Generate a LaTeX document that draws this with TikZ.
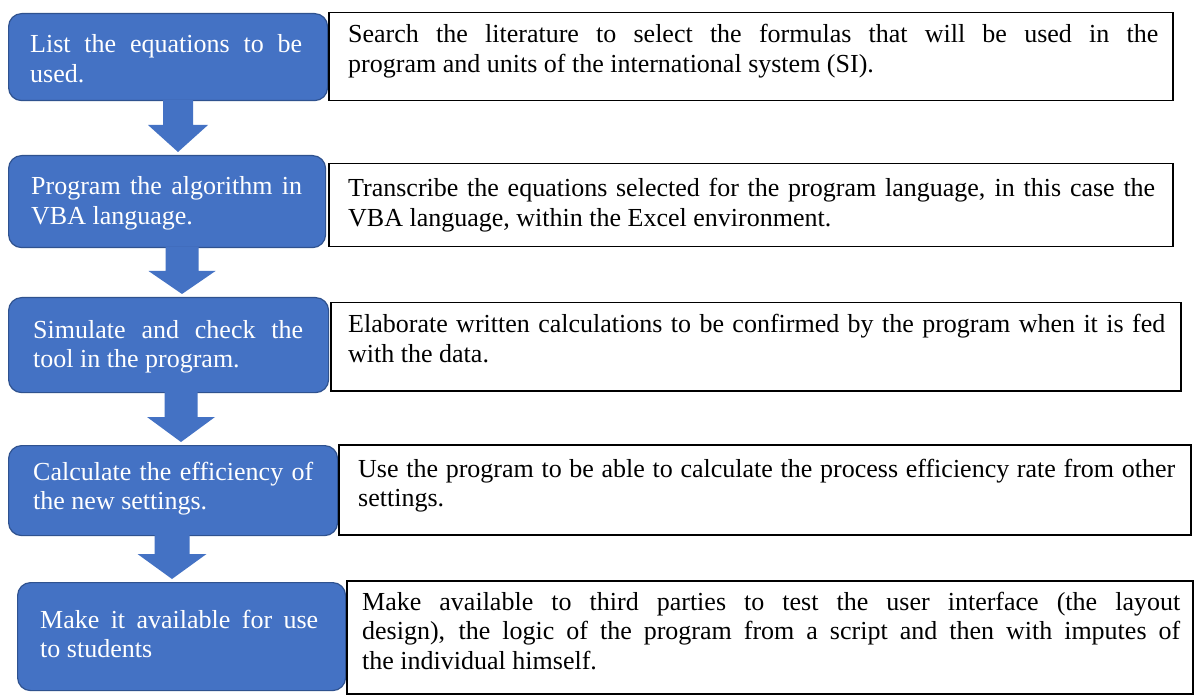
\documentclass[tikz,border=0pt]{standalone}
\usepackage{fontspec}
\setmainfont{Liberation Serif}
\usetikzlibrary{calc}
\definecolor{boxblue}{HTML}{4472C4}
\definecolor{boxedge}{HTML}{2F528F}
\tolerance=10000
\hyphenpenalty=10000
\hbadness=10000
\newcommand\barrow[6]{%
  \fill[arrowfill] let \p1=(#1.south), \p2=(#2.north) in
    (#3pt-#4pt,\y1+1pt) -- (#3pt+#4pt,\y1+1pt) -- (#3pt+#4pt,\y2+3pt+#6pt) --
    (#3pt+#5pt,\y2+3pt+#6pt) -- (#3pt,\y2+3pt) -- (#3pt-#5pt,\y2+3pt+#6pt) --
    (#3pt-#4pt,\y2+3pt+#6pt) -- cycle;}
\begin{document}
\begin{tikzpicture}[x=1pt,y=-1pt,
  bluebox/.style={draw=boxedge,fill=boxblue,line width=1.2pt,rounded corners=13pt,
    anchor=north west,inner sep=0pt},
  whitebox/.style={draw=black,fill=white,line width=1.5pt,anchor=north west,inner sep=0pt},
  bluetext/.style={text=white,font=\fontsize{26}{29.5}\selectfont,align=justify,
    inner sep=0pt,anchor=base west},
  whitetext/.style={text=black,font=\fontsize{26}{29.5}\selectfont,align=justify,
    inner sep=0pt,anchor=base west},
  arrowfill/.style={fill=boxblue}]
\useasboundingbox (0,0) rectangle (1195,695);
\fill[white] (0,0) rectangle (1195,695);

% step boxes
\node[bluebox,minimum width=319pt,minimum height=87pt] (b1) at (8,13) {};
\node[bluebox,minimum width=317pt,minimum height=92pt] (b2) at (8,155) {};
\node[bluebox,minimum width=320pt,minimum height=95pt] (b3) at (8,297) {};
\node[bluebox,minimum width=329pt,minimum height=90pt] (b4) at (8,445) {};
\node[bluebox,minimum width=328pt,minimum height=108pt] (b5) at (17,582) {};

% description boxes
\node[whitebox,minimum width=844pt,minimum height=88pt] (w1) at (328,12) {};
\node[whitebox,minimum width=844pt,minimum height=83pt] (w2) at (328,163) {};
\node[whitebox,minimum width=850pt,minimum height=88pt] (w3) at (330,302) {};
\node[whitebox,minimum width=852pt,minimum height=90pt] (w4) at (338,444) {};
\node[whitebox,minimum width=846pt,minimum height=113pt] (w5) at (346,580) {};

% arrows
\barrow{b1}{b2}{178}{15}{30}{27}
\barrow{b2}{b3}{182}{16.5}{33.5}{23}
\barrow{b3}{b4}{181}{16.5}{34}{25}
\barrow{b4}{b5}{172}{17.5}{34.5}{25}

% step texts
\node[bluetext,text width=272pt] (t1) at (30,53) {List the equations to be\linebreak used.};
\node[bluetext,text width=271pt] (t2) at (31,195) {Program the algorithm in\linebreak VBA language.};
\node[bluetext,text width=270pt] (t3) at (33,338) {Simulate and check the\linebreak tool in the program.};
\node[bluetext,text width=280pt] (t4) at (33,480) {Calculate the efficiency of\linebreak the new settings.};
\node[bluetext,text width=278pt] (t5) at (40,628) {Make it available for use\linebreak to students};

% description texts
\node[whitetext,text width=810pt] (d1) at (348,43) {Search the literature to select the formulas that will be used in the\linebreak program and units of the international system (SI).};
\node[whitetext,text width=807pt] (d2) at (348,197) {Transcribe the equations selected for the program language, in this case the\linebreak VBA language, within the Excel environment.};
\node[whitetext,text width=817pt] (d3) at (348,333) {Elaborate written calculations to be confirmed by the program when it is fed\linebreak with the data.};
\node[whitetext,text width=817pt] (d4) at (358,477) {Use the program to be able to calculate the process efficiency rate from other\linebreak settings.};
\node[whitetext,text width=818pt] (d5) at (362,610) {Make available to third parties to test the user interface (the layout\linebreak design), the logic of the program from a script and then with imputes of\linebreak the individual himself.};
\end{tikzpicture}
\end{document}
